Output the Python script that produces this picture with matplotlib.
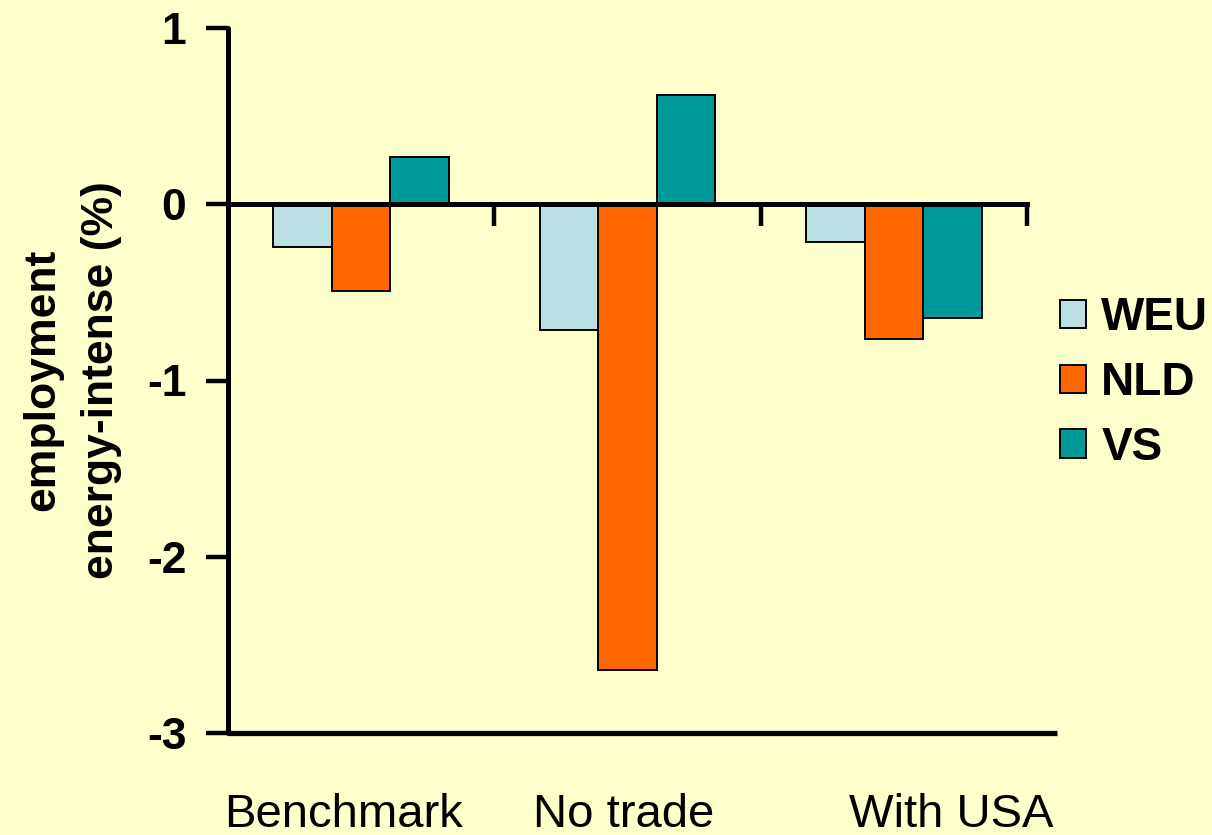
import numpy as np
import matplotlib
matplotlib.use("Agg")
import matplotlib.pyplot as plt
import matplotlib.transforms as mtransforms

# ---- data ----
categories = ["Benchmark", "No trade", "With USA"]
series_names = ["WEU", "NLD", "VS"]
weu = [-0.24, -0.715, -0.215]
nld = [-0.49, -2.64, -0.765]
vs = [0.27, 0.62, -0.645]
yticks = [-3, -2, -1, 0, 1]
ylabel = "employment\nenergy-intense (%)"

colors = ["#BBE0E3", "#FF6600", "#009999"]
bg = "#FFFFCC"

plt.rcParams["font.family"] = ["Liberation Sans", "DejaVu Sans"]

fig = plt.figure(figsize=(12.12, 8.35), dpi=100, facecolor=bg)
ax = fig.add_axes([228 / 1212, 102 / 835, 799 / 1212, 705 / 835])
ax.set_facecolor(bg)
ax.set_xlim(-0.5, 2.5)
ax.set_ylim(-3, 1)

x = np.arange(len(categories))
width = 0.22
offsets = [-width, 0.0, width]
handles = []
for vals, name, col, off in zip([weu, nld, vs], series_names, colors, offsets):
    h = ax.bar(x + off, vals, width=width, color=col, edgecolor="black",
               linewidth=1.4, label=name, zorder=1)
    handles.append(h)

# spines
for s in ["top", "right"]:
    ax.spines[s].set_visible(False)
ax.spines["left"].set_linewidth(3.6)
ax.spines["bottom"].set_linewidth(3.6)
ax.spines["bottom"].set_position(("data", 0))
ax.spines["left"].set_capstyle("round")

ax.set_xticks([0.5, 1.5, 2.5])
ax.set_xticklabels([])
ax.tick_params(axis="x", direction="out", length=16, width=3.2)
ax.set_yticks(yticks)
ax.set_yticklabels([str(t) for t in yticks], fontsize=32, fontweight="bold")
ax.tick_params(axis="y", direction="out", length=16, width=3.2, pad=14)

# bottom line at -3
ax.axhline(-3, xmin=0, xmax=1.0375, color="black", lw=3.8, clip_on=False,
           solid_capstyle="butt")

# category labels at the bottom
label_offsets = [-0.068, -0.013, 0.215]
trans = mtransforms.blended_transform_factory(ax.transData, fig.transFigure)
for i, (cat, off) in enumerate(zip(categories, label_offsets)):
    ax.text(i + off, 8 / 835, cat, transform=trans, ha="center", va="baseline",
            fontsize=34, clip_on=False)

# y label
fig.text(72 / 1212, (835 - 380) / 835, ylabel, rotation=90, ha="center",
         va="center", multialignment="center", fontsize=32, fontweight="bold",
         linespacing=1.55)

# legend
leg = ax.legend(handles=handles, labels=series_names, loc="center left",
                bbox_to_anchor=(1060 / 1212, (835 - 383) / 835),
                bbox_transform=fig.transFigure, frameon=False,
                prop={"size": 33, "weight": "bold"},
                handlelength=0.57, handleheight=0.57, handletextpad=0.33,
                labelspacing=0.45, borderpad=0, borderaxespad=0)

fig.savefig("out.png", dpi=100, facecolor=bg)
